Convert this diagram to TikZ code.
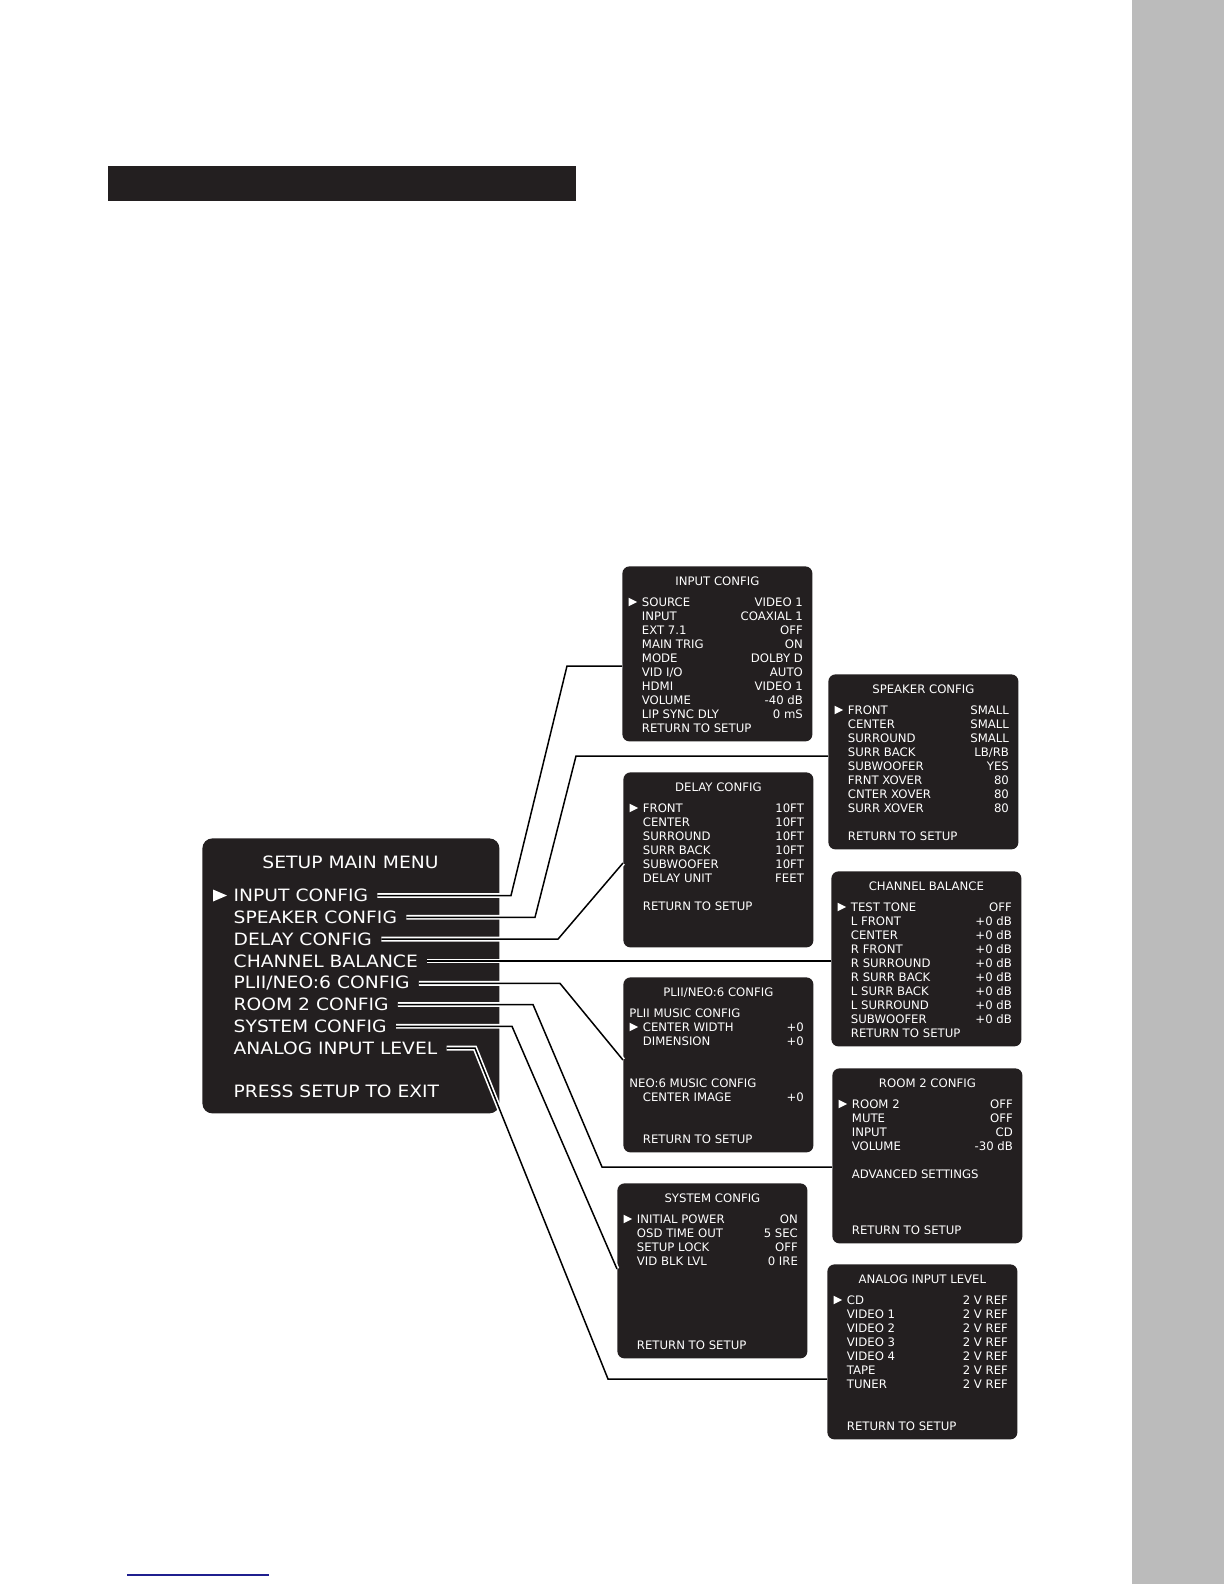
\documentclass[tikz,border=0pt]{standalone}
\usepackage{fontspec}
\newfontfamily\osdfont{DejaVu Sans}
\newfontfamily\osdbigfont[FakeStretch=1.1]{DejaVu Sans}
\usetikzlibrary{calc,positioning}
\definecolor{screen}{HTML}{231F20}
\definecolor{sidebar}{HTML}{BBBBBB}
\definecolor{linkblue}{HTML}{1F1F8F}

\tikzset{
  osdbox/.style={fill=screen, rounded corners=3.5pt, minimum width=95pt,
    minimum height=87.5pt, anchor=north west, inner sep=0pt},
  osdtxt/.style={text=white, inner sep=0pt, font=\osdfont\fontsize{5.85}{7}\selectfont},
  menutxt/.style={text=white, inner sep=0pt, anchor=base west,
    font=\osdbigfont\fontsize{8.5}{10}\selectfont},
  link/.style={black, line width=0.75pt, preaction={draw=white, line width=2.4pt}},
  pointer/.style={fill=white},
}

% one screen line: box, row, label, value
\newcommand{\osdrow}[4]{%
  \node[osdtxt, anchor=base west] (#1-l#2) at ($(#1.north west)+(19.5,40.3+14*#2)$) {#3};
  \node[osdtxt, anchor=base east] (#1-v#2) at ($(#1.north east)+(-9.5,40.3+14*#2)$) {#4};}
% line without value: box, row, x offset, text
\newcommand{\osditem}[4]{%
  \node[osdtxt, anchor=base west] (#1-l#2) at ($(#1.north west)+(#3,40.3+14*#2)$) {#4};}
\newcommand{\osdtitle}[2]{%
  \node[osdtxt, anchor=base] (#1-t) at ($(#1.north)+(0,19.3)$) {#2};}
\newcommand{\osdptr}[2]{%
  \fill[pointer] ($(#1.north west)+(6.5,31.7+14*#2)$) -- ++(0,8.6) -- ++(8.6,-4.3) -- cycle;}

\begin{document}
\begin{tikzpicture}[x=0.5pt, y=-0.5pt]
\useasboundingbox (0,0) rectangle (1224,1584);

% page furniture
\fill[sidebar] (1132,0) rectangle (1224,1584);
\fill[screen] (108,166) rectangle (576,201);
\draw[linkblue, line width=0.6pt] (127,1575) -- (269,1575);

% main menu
\node[osdbox, minimum width=148.5pt, minimum height=137.5pt, rounded corners=5pt] (mainMenu) at (202,838) {};
\node[menutxt, anchor=base] (mTitle) at (350.5,868.2) {SETUP MAIN MENU};
\fill[pointer] (213,889.5) -- (213,901.5) -- (227,895.5) -- cycle;
\node[menutxt] (mInput) at (233.3,901.7) {INPUT CONFIG};
\node[menutxt] (mSpeaker) at (233.3,923.5) {SPEAKER CONFIG};
\node[menutxt] (mDelay) at (233.3,945.3) {DELAY CONFIG};
\node[menutxt] (mBalance) at (233.3,967.1) {CHANNEL BALANCE};
\node[menutxt] (mPlii) at (233.3,988.9) {PLII/NEO:6 CONFIG};
\node[menutxt] (mRoom) at (233.3,1010.7) {ROOM 2 CONFIG};
\node[menutxt] (mSystem) at (233.3,1032.5) {SYSTEM CONFIG};
\node[menutxt] (mAnalog) at (233.3,1054.3) {ANALOG INPUT LEVEL};
\node[menutxt] (mExit) at (233.3,1097.9) {PRESS SETUP TO EXIT};

% sub menus
\node[osdbox] (inBox) at (622,566) {};
\osdtitle{inBox}{INPUT CONFIG}
\osdptr{inBox}{0}
\osdrow{inBox}{0}{SOURCE}{VIDEO 1}
\osdrow{inBox}{1}{INPUT}{COAXIAL 1}
\osdrow{inBox}{2}{EXT 7.1}{OFF}
\osdrow{inBox}{3}{MAIN TRIG}{ON}
\osdrow{inBox}{4}{MODE}{DOLBY D}
\osdrow{inBox}{5}{VID I/O}{AUTO}
\osdrow{inBox}{6}{HDMI}{VIDEO 1}
\osdrow{inBox}{7}{VOLUME}{-40 dB}
\osdrow{inBox}{8}{LIP SYNC DLY}{0 mS}
\osditem{inBox}{9}{19.5}{RETURN TO SETUP}

\node[osdbox] (spkBox) at (828,674) {};
\osdtitle{spkBox}{SPEAKER CONFIG}
\osdptr{spkBox}{0}
\osdrow{spkBox}{0}{FRONT}{SMALL}
\osdrow{spkBox}{1}{CENTER}{SMALL}
\osdrow{spkBox}{2}{SURROUND}{SMALL}
\osdrow{spkBox}{3}{SURR BACK}{LB/RB}
\osdrow{spkBox}{4}{SUBWOOFER}{YES}
\osdrow{spkBox}{5}{FRNT XOVER}{80}
\osdrow{spkBox}{6}{CNTER XOVER}{80}
\osdrow{spkBox}{7}{SURR XOVER}{80}
\osditem{spkBox}{9}{19.5}{RETURN TO SETUP}

\node[osdbox] (dlyBox) at (623,772) {};
\osdtitle{dlyBox}{DELAY CONFIG}
\osdptr{dlyBox}{0}
\osdrow{dlyBox}{0}{FRONT}{10FT}
\osdrow{dlyBox}{1}{CENTER}{10FT}
\osdrow{dlyBox}{2}{SURROUND}{10FT}
\osdrow{dlyBox}{3}{SURR BACK}{10FT}
\osdrow{dlyBox}{4}{SUBWOOFER}{10FT}
\osdrow{dlyBox}{5}{DELAY UNIT}{FEET}
\osditem{dlyBox}{7}{19.5}{RETURN TO SETUP}

\node[osdbox] (balBox) at (831,871) {};
\osdtitle{balBox}{CHANNEL BALANCE}
\osdptr{balBox}{0}
\osdrow{balBox}{0}{TEST TONE}{OFF}
\osdrow{balBox}{1}{L FRONT}{+0 dB}
\osdrow{balBox}{2}{CENTER}{+0 dB}
\osdrow{balBox}{3}{R FRONT}{+0 dB}
\osdrow{balBox}{4}{R SURROUND}{+0 dB}
\osdrow{balBox}{5}{R SURR BACK}{+0 dB}
\osdrow{balBox}{6}{L SURR BACK}{+0 dB}
\osdrow{balBox}{7}{L SURROUND}{+0 dB}
\osdrow{balBox}{8}{SUBWOOFER}{+0 dB}
\osditem{balBox}{9}{19.5}{RETURN TO SETUP}

\node[osdbox] (pliBox) at (623,977) {};
\osdtitle{pliBox}{PLII/NEO:6 CONFIG}
\osditem{pliBox}{0}{6}{PLII MUSIC CONFIG}
\osdptr{pliBox}{1}
\osdrow{pliBox}{1}{CENTER WIDTH}{+0}
\osdrow{pliBox}{2}{DIMENSION}{+0}
\osditem{pliBox}{5}{6}{NEO:6 MUSIC CONFIG}
\osdrow{pliBox}{6}{CENTER IMAGE}{+0}
\osditem{pliBox}{9}{19.5}{RETURN TO SETUP}

\node[osdbox] (roomBox) at (832,1068) {};
\osdtitle{roomBox}{ROOM 2 CONFIG}
\osdptr{roomBox}{0}
\osdrow{roomBox}{0}{ROOM 2}{OFF}
\osdrow{roomBox}{1}{MUTE}{OFF}
\osdrow{roomBox}{2}{INPUT}{CD}
\osdrow{roomBox}{3}{VOLUME}{-30 dB}
\osditem{roomBox}{5}{19.5}{ADVANCED SETTINGS}
\osditem{roomBox}{9}{19.5}{RETURN TO SETUP}

\node[osdbox] (sysBox) at (617,1183) {};
\osdtitle{sysBox}{SYSTEM CONFIG}
\osdptr{sysBox}{0}
\osdrow{sysBox}{0}{INITIAL POWER}{ON}
\osdrow{sysBox}{1}{OSD TIME OUT}{5 SEC}
\osdrow{sysBox}{2}{SETUP LOCK}{OFF}
\osdrow{sysBox}{3}{VID BLK LVL}{0 IRE}
\osditem{sysBox}{9}{19.5}{RETURN TO SETUP}

\node[osdbox] (anaBox) at (827,1264) {};
\osdtitle{anaBox}{ANALOG INPUT LEVEL}
\osdptr{anaBox}{0}
\osdrow{anaBox}{0}{CD}{2 V REF}
\osdrow{anaBox}{1}{VIDEO 1}{2 V REF}
\osdrow{anaBox}{2}{VIDEO 2}{2 V REF}
\osdrow{anaBox}{3}{VIDEO 3}{2 V REF}
\osdrow{anaBox}{4}{VIDEO 4}{2 V REF}
\osdrow{anaBox}{5}{TAPE}{2 V REF}
\osdrow{anaBox}{6}{TUNER}{2 V REF}
\osditem{anaBox}{9}{19.5}{RETURN TO SETUP}

% connectors from the main menu
\draw[link] ($(mInput.east)+(9,0)$) coordinate (s1) -- (s1 -| 511,0) -- (567,666) -- (inBox.west |- 0,666);
\draw[link] ($(mSpeaker.east)+(9,0)$) coordinate (s2) -- (s2 -| 535,0) -- (576,756) -- (spkBox.west |- 0,756);
\draw[link] ($(mDelay.east)+(9,0)$) coordinate (s3) -- (s3 -| 558,0) -- (dlyBox.west |- 0,863);
\draw[link] ($(mBalance.east)+(9,0)$) coordinate (s4) -- (s4 -| balBox.west);
\draw[link] ($(mPlii.east)+(9,0)$) coordinate (s5) -- (s5 -| 560,0) -- (pliBox.west |- 0,1060);
\draw[link] ($(mRoom.east)+(9,0)$) coordinate (s6) -- (s6 -| 533,0) -- (602,1167) -- (roomBox.west |- 0,1167);
\draw[link] ($(mSystem.east)+(9,0)$) coordinate (s7) -- (s7 -| 512,0) -- (sysBox.west |- 0,1269);
\draw[link] ($(mAnalog.east)+(9,0)$) coordinate (s8) -- (s8 -| 475,0) -- (608,1379) -- (anaBox.west |- 0,1379);
\end{tikzpicture}
\end{document}
